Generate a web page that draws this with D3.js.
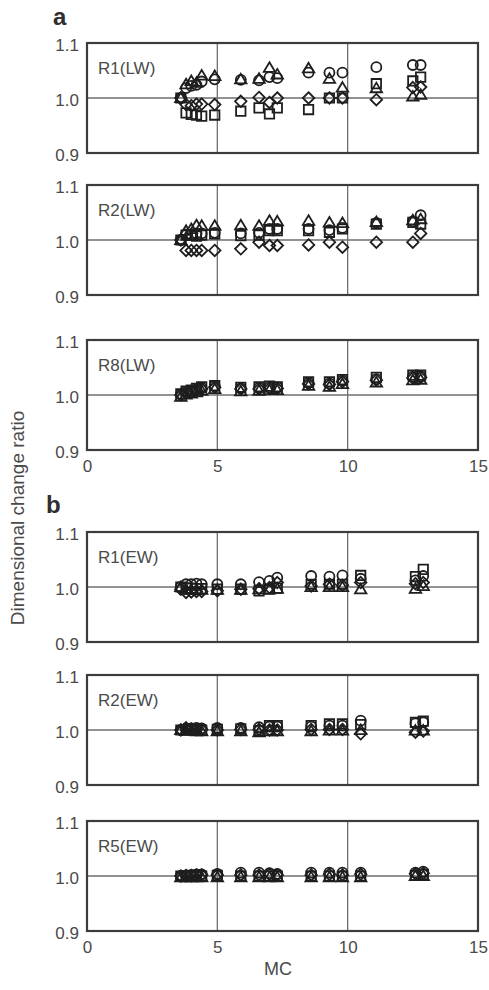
<!DOCTYPE html>
<html><head><meta charset="utf-8">
<script src="https://cdn.jsdelivr.net/npm/d3@7/dist/d3.min.js"></script>
<style>
html,body{margin:0;padding:0;background:#fff;}
svg text{font-family:"Liberation Sans",Arial,Helvetica,sans-serif;}
</style></head>
<body><svg id="chart" width="489" height="990"></svg>
<script>
// ---------- DATA ----------
const panelNames = ["R1(LW)","R2(LW)","R8(LW)","R1(EW)","R2(EW)","R5(EW)"];
const mcLW = [3.6,3.8,4.0,4.2,4.4,4.9,5.9,6.6,7.0,7.3,8.5,9.3,9.8,11.1,12.5,12.8];
const mcEW = [3.6,3.8,4.0,4.2,4.4,5.0,5.9,6.6,7.0,7.3,8.6,9.3,9.8,10.5,12.6,12.9];
const xTicks = [0,5,10,15];
const yTicks = [0.9,1.0,1.1];

// R1(LW)
const r1lwCircle   = [1.000,1.018,1.022,1.024,1.030,1.034,1.033,1.032,1.038,1.036,1.046,1.046,1.046,1.056,1.060,1.060];
const r1lwSquare   = [1.000,0.973,0.970,0.969,0.967,0.969,0.976,0.982,0.971,0.982,0.979,1.000,1.000,1.026,1.031,1.038];
const r1lwTriangle = [1.000,1.025,1.031,1.028,1.041,1.040,1.034,1.035,1.055,1.043,1.054,1.035,1.019,1.018,1.003,1.006];
const r1lwDiamond  = [1.000,0.988,0.986,0.989,0.989,0.988,0.994,1.001,0.992,1.000,1.000,1.000,1.000,0.997,1.019,1.020];
// R2(LW)
const r2lwCircle   = [1.000,1.010,1.010,1.012,1.012,1.013,1.012,1.013,1.020,1.020,1.020,1.018,1.022,1.031,1.034,1.045];
const r2lwSquare   = [1.000,1.009,1.009,1.007,1.009,1.011,1.008,1.009,1.017,1.017,1.017,1.014,1.020,1.029,1.032,1.029];
const r2lwTriangle = [1.000,1.017,1.020,1.027,1.026,1.026,1.027,1.026,1.035,1.034,1.035,1.032,1.031,1.033,1.036,1.038];
const r2lwDiamond  = [1.000,0.981,0.981,0.981,0.981,0.981,0.984,0.996,0.990,0.990,0.991,0.996,0.987,0.996,0.996,1.012];
// R8(LW)
const r8lwCircle   = [1.001,1.006,1.008,1.010,1.013,1.016,1.012,1.013,1.014,1.014,1.022,1.021,1.026,1.029,1.033,1.034];
const r8lwSquare   = [1.002,1.007,1.009,1.012,1.015,1.017,1.014,1.015,1.016,1.015,1.024,1.024,1.028,1.032,1.036,1.036];
const r8lwTriangle = [0.997,1.001,1.003,1.005,1.008,1.011,1.007,1.008,1.009,1.009,1.017,1.015,1.020,1.023,1.027,1.028];
const r8lwDiamond  = [1.000,1.004,1.006,1.008,1.011,1.014,1.011,1.011,1.012,1.012,1.020,1.019,1.024,1.027,1.031,1.032];
// R1(EW)
const r1ewCircle   = [1.000,1.005,1.005,1.006,1.005,1.005,1.005,1.009,1.011,1.017,1.020,1.019,1.021,1.015,1.012,1.020];
const r1ewSquare   = [1.000,0.998,0.998,0.997,0.997,0.996,0.996,0.993,0.996,0.998,1.005,1.005,1.005,1.021,1.019,1.032];
const r1ewTriangle = [1.000,0.995,0.995,0.995,0.995,0.995,0.995,0.996,0.996,0.997,1.000,1.000,1.000,0.996,0.997,1.002];
const r1ewDiamond  = [0.996,0.990,0.991,0.992,0.992,0.993,0.996,0.997,0.999,1.008,1.002,1.005,1.003,1.008,1.006,1.008];
// R2(EW)
const r2ewCircle   = [1.000,1.003,1.003,1.004,1.003,1.004,1.004,1.005,1.006,1.006,1.006,1.008,1.008,1.017,1.012,1.014];
const r2ewSquare   = [1.000,1.000,1.000,1.000,1.000,1.001,1.002,0.999,1.008,1.008,1.008,1.011,1.011,1.010,1.014,1.016];
const r2ewTriangle = [1.000,0.999,0.999,0.998,0.998,0.998,0.998,0.996,0.998,0.998,0.998,0.999,0.999,1.000,0.999,0.999];
const r2ewDiamond  = [1.000,1.004,1.002,1.001,1.001,1.000,1.001,1.001,1.000,1.000,1.001,1.001,1.001,0.993,0.996,0.998];
// R5(EW)
const r5ewCircle   = [1.000,1.001,1.002,1.003,1.003,1.004,1.006,1.006,1.005,1.004,1.006,1.006,1.006,1.006,1.006,1.008];
const r5ewSquare   = [1.000,1.000,1.000,1.000,1.000,1.001,1.000,1.000,1.000,1.000,1.000,1.000,1.000,1.000,1.001,1.003];
const r5ewTriangle = [0.998,0.998,0.998,0.998,0.998,0.998,0.998,0.998,0.998,0.998,0.998,0.998,0.998,0.998,1.000,1.000];
const r5ewDiamond  = [1.000,1.001,1.001,1.002,1.002,1.002,1.002,1.002,1.003,1.002,1.002,1.003,1.002,1.003,1.004,1.005];

const panelData = [
  {mc: mcLW, circle: r1lwCircle, square: r1lwSquare, triangle: r1lwTriangle, diamond: r1lwDiamond},
  {mc: mcLW, circle: r2lwCircle, square: r2lwSquare, triangle: r2lwTriangle, diamond: r2lwDiamond},
  {mc: mcLW, circle: r8lwCircle, square: r8lwSquare, triangle: r8lwTriangle, diamond: r8lwDiamond},
  {mc: mcEW, circle: r1ewCircle, square: r1ewSquare, triangle: r1ewTriangle, diamond: r1ewDiamond},
  {mc: mcEW, circle: r2ewCircle, square: r2ewSquare, triangle: r2ewTriangle, diamond: r2ewDiamond},
  {mc: mcEW, circle: r5ewCircle, square: r5ewSquare, triangle: r5ewTriangle, diamond: r5ewDiamond}
];

// ---------- LAYOUT ----------
const panelTops = [43,185,340,532,675,821];
const panelH = 110;
const xLeft = 87, xRight = 478;
const textCol = "#4a4a4a";
const markCol = "#1e1e1e";

const svg = d3.select("#chart");
const x = d3.scaleLinear().domain([0,15]).range([xLeft,xRight]);

// marker path generators (centered at 0,0)
const shapes = {
  circle: r => d3.symbol().type(d3.symbolCircle).size(Math.PI*r*r)(),
  square: r => `M${-r},${-r}H${r}V${r}H${-r}Z`,
  triangle: r => `M0,${-r*1.05}L${r*1.1},${r*0.8}L${-r*1.1},${r*0.8}Z`,
  diamond: r => `M0,${-r*1.15}L${r*1.15},0L0,${r*1.15}L${-r*1.15},0Z`
};
const shapeSize = {circle:5.0, square:4.7, triangle:5.2, diamond:5.0};
const drawOrder = ["square","circle","triangle","diamond"];

panelTops.forEach((top,i) => {
  const y = d3.scaleLinear().domain([0.9,1.1]).range([top+panelH, top]);
  const g = svg.append("g");

  // grid
  g.selectAll("line.vg").data([5,10]).join("line")
    .attr("x1",d=>x(d)).attr("x2",d=>x(d))
    .attr("y1",top).attr("y2",top+panelH)
    .attr("stroke","#6e6e6e").attr("stroke-width",1.3);
  g.append("line")
    .attr("x1",xLeft).attr("x2",xRight)
    .attr("y1",y(1.0)).attr("y2",y(1.0))
    .attr("stroke","#6e6e6e").attr("stroke-width",1.3);

  // y axis labels
  const ya = g.append("g").attr("transform",`translate(${xLeft},0)`)
    .call(d3.axisLeft(y).tickValues(yTicks).tickSize(0).tickPadding(8).tickFormat(d3.format(".1f")));
  ya.select(".domain").remove();
  ya.selectAll("text").attr("font-size",17).attr("fill",textCol)
    .style("font-family","'Liberation Sans',Arial,sans-serif").attr("dy","0.45em");

  // x axis labels for bottom panel of each group
  if (i === 2 || i === 5) {
    const xa = g.append("g").attr("transform",`translate(0,${top+panelH})`)
      .call(d3.axisBottom(x).tickValues(xTicks).tickSize(0).tickPadding(10).tickFormat(d3.format("d")));
    xa.select(".domain").remove();
    xa.selectAll("text").attr("font-size",17).attr("fill",textCol)
      .style("font-family","'Liberation Sans',Arial,sans-serif");
  }

  // panel name
  g.append("text").attr("x",98).attr("y",top+31)
    .attr("font-size",17).attr("fill",textCol).text(panelNames[i]);

  // markers
  const pd = panelData[i];
  drawOrder.forEach(s => {
    const pts = pd.mc.map((m,k) => ({m, v: pd[s][k]}));
    g.selectAll(`path.${s}`).data(pts).join("path")
      .attr("class",s)
      .attr("d",shapes[s](shapeSize[s]))
      .attr("transform",d=>`translate(${x(d.m)},${y(d.v)})`)
      .attr("fill","none").attr("stroke",markCol).attr("stroke-width",1.8);
  });

  // frame
  g.append("rect").attr("x",xLeft).attr("y",top)
    .attr("width",xRight-xLeft).attr("height",panelH)
    .attr("fill","none").attr("stroke","#3c3c3c").attr("stroke-width",2.2);
});

// group letters
svg.append("text").attr("x",53).attr("y",25).attr("font-size",24)
  .attr("font-weight","bold").attr("fill","#2e2e2e").text("a");
svg.append("text").attr("x",46).attr("y",513).attr("font-size",24)
  .attr("font-weight","bold").attr("fill","#2e2e2e").text("b");

// axis titles
svg.append("text").attr("transform","translate(24,518) rotate(-90)")
  .attr("text-anchor","middle").attr("font-size",19).attr("fill",textCol)
  .text("Dimensional change ratio");
svg.append("text").attr("x",278).attr("y",975).attr("text-anchor","middle")
  .attr("font-size",18).attr("fill",textCol).text("MC");
</script></body></html>
